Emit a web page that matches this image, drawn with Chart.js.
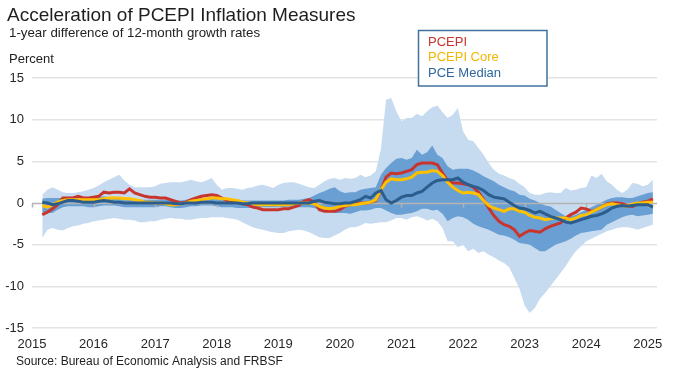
<!DOCTYPE html>
<html><head><meta charset="utf-8">
<script src="https://cdn.jsdelivr.net/npm/chart.js@4.4.1/dist/chart.umd.min.js"></script>
<style>html,body{margin:0;padding:0;background:#fff}#wrap{width:680px;height:371px;position:relative}</style>
</head><body><div id="wrap"><canvas id="c" width="680" height="371"></canvas></div>
<script>
// ---------- texts ----------
const titleText = 'Acceleration of PCEPI Inflation Measures';
const subtitleText = '1-year difference of 12-month growth rates';
const unitText = 'Percent';
const sourceText = 'Source: Bureau of Economic Analysis and FRBSF';
const seriesNames = ['PCEPI', 'PCEPI Core', 'PCE Median'];

// ---------- axes ----------
const firstYear = 2015, firstMonth = 3;           // first monthly observation: Mar 2015
const yearTicks = [2015, 2016, 2017, 2018, 2019, 2020, 2021, 2022, 2023, 2024, 2025];
const yTicks = [-15, -10, -5, 0, 5, 10, 15];

// ---------- series (percentage points, monthly) ----------
const pcepi = [
 -1.4,-1.1,-0.7,-0.2,0.6,0.6,0.6,0.8,0.6,0.6,
 0.7,0.8,1.3,1.2,1.3,1.3,1.2,1.7,1.2,1.0,
 0.8,0.7,0.7,0.6,0.6,0.4,0.2,0.0,0.1,0.4,
 0.6,0.8,0.9,1.0,0.9,0.6,0.3,0.2,0.1,-0.1,
 -0.2,-0.5,-0.6,-0.8,-0.8,-0.8,-0.8,-0.7,-0.7,-0.5,
 -0.3,0.2,0.4,0.1,-0.8,-1.0,-1.0,-1.0,-0.8,-0.4,
 -0.2,-0.1,0.0,0.0,0.1,0.3,1.5,3.1,3.6,3.5,
 3.6,3.8,4.0,4.6,4.8,4.8,4.8,4.6,3.6,2.7,
 2.4,2.4,2.3,2.2,1.9,1.3,0.4,-0.6,-1.5,-2.2,
 -2.6,-2.8,-3.2,-4.0,-3.6,-3.3,-3.4,-3.5,-3.1,-2.8,
 -2.6,-2.4,-1.8,-1.4,-1.1,-0.6,-0.7,-1.0,-0.8,-0.5,
 -0.1,0.0,0.0,-0.1,-0.3,-0.4,-0.1,0.1,0.2,0.5
];
const pcepiCore = [
 -0.3,-0.5,-0.2,0.1,0.3,0.4,0.4,0.4,0.4,0.4,
 0.4,0.4,0.5,0.6,0.6,0.6,0.5,0.5,0.4,0.3,
 0.1,0.1,0.0,0.0,-0.1,-0.2,-0.2,-0.1,0.0,0.2,
 0.3,0.4,0.5,0.6,0.6,0.5,0.5,0.4,0.3,0.1,
 0.0,-0.1,-0.2,-0.2,-0.2,-0.2,-0.2,-0.2,-0.2,-0.1,
 0.0,0.0,0.0,-0.1,-0.4,-0.6,-0.7,-0.6,-0.4,-0.3,
 -0.2,-0.2,-0.1,0.0,0.1,0.4,1.6,2.5,2.9,2.8,
 2.8,2.9,3.1,3.6,3.7,3.7,3.9,3.8,3.3,2.5,
 1.9,1.5,1.2,1.3,1.2,1.0,0.3,-0.3,-0.6,-0.8,
 -1.0,-0.7,-0.7,-1.0,-1.1,-1.5,-1.7,-1.8,-2.0,-1.9,
 -1.8,-1.8,-1.8,-2.0,-1.8,-1.5,-1.4,-1.1,-0.8,-0.5,
 -0.2,-0.1,-0.2,-0.3,-0.4,-0.1,0.0,0.0,0.1,0.1
];
const pceMedian = [
 0.1,0.0,-0.2,-0.1,0.1,0.3,0.3,0.2,0.1,0.1,
 0.1,0.2,0.3,0.2,0.1,0.1,0.0,0.0,0.0,0.0,
 0.0,0.0,0.0,0.0,0.0,0.0,-0.1,-0.1,0.0,0.0,
 0.0,0.1,0.1,0.1,0.0,0.0,0.0,0.0,0.0,-0.1,
 -0.1,0.0,0.0,0.0,0.0,0.0,0.0,0.0,0.0,0.0,
 0.0,0.0,0.0,0.2,0.3,0.1,0.0,-0.1,-0.1,0.0,
 0.0,0.2,0.4,0.8,0.6,1.2,1.5,0.4,0.0,0.3,
 0.7,0.9,0.9,1.2,1.4,1.9,2.4,2.7,2.8,2.8,
 2.8,3.0,2.5,2.2,2.0,1.8,1.5,1.0,0.7,0.6,
 0.5,0.1,-0.3,-0.6,-0.7,-0.9,-1.2,-1.0,-1.3,-1.6,
 -1.8,-2.0,-2.3,-2.4,-2.2,-2.0,-1.8,-1.6,-1.5,-1.3,
 -1.0,-0.6,-0.4,-0.3,-0.4,-0.3,-0.2,-0.2,-0.2,-0.5
];
// outer (light) range of components
const outerHigh = [
 1.0,1.6,1.9,1.6,1.3,1.2,1.2,1.3,1.4,1.6,
 1.8,2.1,2.5,2.8,3.1,3.4,2.7,2.2,1.9,1.9,
 1.9,1.9,2.0,2.3,2.4,2.5,2.5,2.5,2.6,2.8,
 2.6,2.5,2.7,3.0,2.2,1.6,1.8,1.8,1.7,1.6,
 1.8,1.9,2.1,2.2,2.0,1.8,2.2,2.4,2.5,2.5,
 2.3,2.1,1.9,1.8,2.2,2.6,2.9,3.0,2.8,3.0,
 2.9,3.0,3.4,3.1,3.3,3.8,6.5,12.4,12.6,11.0,
 9.8,10.2,10.2,10.7,10.4,11.0,11.5,11.7,10.9,10.2,
 10.6,11.4,8.6,7.6,7.4,6.6,5.8,4.8,4.0,3.5,
 3.3,3.0,2.8,2.3,1.9,1.2,1.0,1.0,1.2,1.3,
 1.2,1.2,1.8,1.5,1.6,1.8,1.9,3.3,3.0,3.5,
 2.6,2.2,1.6,1.2,1.6,2.4,2.3,2.0,2.2,2.8
];
const outerLow = [
 -4.2,-3.2,-3.0,-3.2,-3.3,-3.0,-2.8,-2.7,-2.5,-2.4,
 -2.2,-2.1,-2.0,-1.9,-1.8,-1.9,-2.0,-2.0,-2.1,-2.3,
 -2.3,-2.2,-2.2,-2.0,-1.9,-1.8,-1.9,-1.9,-2.0,-2.0,
 -1.9,-1.8,-1.8,-1.7,-1.7,-1.7,-1.8,-1.9,-2.0,-2.3,
 -2.6,-2.9,-3.1,-3.2,-3.4,-3.5,-3.6,-3.6,-3.4,-3.3,
 -3.2,-3.3,-3.5,-3.8,-4.1,-4.2,-4.2,-3.9,-3.6,-3.2,
 -2.9,-2.9,-2.7,-2.4,-2.5,-2.4,-2.3,-2.3,-2.1,-1.8,
 -1.8,-2.0,-1.7,-1.6,-1.8,-2.1,-1.9,-2.2,-3.0,-4.6,
 -4.6,-5.3,-5.0,-5.8,-5.5,-6.0,-5.8,-6.2,-6.5,-6.9,
 -7.2,-7.7,-9.0,-10.3,-12.3,-13.2,-12.6,-11.5,-10.8,-10.0,
 -9.2,-8.4,-7.6,-6.6,-5.8,-5.2,-4.6,-4.3,-4.0,-3.7,
 -3.4,-3.2,-3.0,-2.9,-2.9,-3.0,-3.2,-3.0,-2.8,-2.6
];
// inner (dark) range of components
const innerHigh = [
 0.5,0.6,0.6,0.6,0.6,0.6,0.6,0.5,0.5,0.5,
 0.6,0.7,0.8,0.7,0.6,0.6,0.5,0.5,0.4,0.4,
 0.4,0.4,0.4,0.4,0.4,0.4,0.3,0.3,0.4,0.5,
 0.5,0.6,0.6,0.6,0.5,0.4,0.4,0.4,0.4,0.3,
 0.3,0.3,0.3,0.3,0.3,0.3,0.3,0.3,0.4,0.4,
 0.4,0.5,0.6,0.9,1.2,1.4,1.7,1.9,1.4,1.2,
 1.3,1.3,1.6,1.7,1.8,1.9,3.4,4.2,4.8,5.3,
 5.4,5.2,5.4,6.4,5.8,6.1,6.9,5.8,5.4,4.4,
 4.0,4.1,4.1,4.1,3.9,3.6,3.2,2.9,2.6,2.2,
 1.9,1.6,1.4,1.0,0.9,0.5,0.3,0.0,-0.3,-0.4,
 -0.8,-1.2,-1.6,-1.6,-1.4,-1.1,-0.8,-0.5,-0.2,0.1,
 0.4,0.6,0.7,0.7,0.6,0.6,0.8,1.0,1.2,1.3
];
const innerLow = [
 -1.1,-1.2,-1.2,-0.8,-0.5,-0.4,-0.4,-0.4,-0.4,-0.5,
 -0.5,-0.4,-0.3,-0.3,-0.3,-0.4,-0.5,-0.5,-0.5,-0.5,
 -0.5,-0.5,-0.5,-0.4,-0.4,-0.5,-0.6,-0.6,-0.5,-0.4,
 -0.4,-0.3,-0.3,-0.3,-0.4,-0.5,-0.5,-0.5,-0.6,-0.6,
 -0.6,-0.6,-0.5,-0.5,-0.5,-0.5,-0.5,-0.5,-0.5,-0.5,
 -0.5,-0.5,-0.5,-0.6,-0.8,-0.9,-1.0,-1.2,-1.2,-1.2,
 -1.3,-1.1,-0.9,-0.9,-0.8,-0.6,-0.6,-0.9,-1.2,-1.4,
 -1.4,-1.3,-1.2,-1.0,-0.7,-0.7,-0.9,-0.8,-1.3,-2.2,
 -1.8,-1.6,-1.7,-2.0,-2.5,-2.8,-3.0,-3.2,-3.5,-3.8,
 -3.9,-4.1,-4.4,-4.8,-4.9,-5.0,-5.4,-5.8,-5.8,-5.4,
 -5.0,-4.8,-4.6,-4.3,-3.9,-3.6,-3.5,-3.4,-3.3,-3.2,
 -2.6,-2.3,-2.0,-1.7,-1.5,-1.4,-1.6,-1.5,-1.4,-1.3
];

// ---------- styles ----------
const FONT = '"Liberation Sans", Arial, sans-serif';
const C_RED = '#c8352e', C_GOLD = '#ffc000', C_NAVY = '#2c5d8c';
const C_OUTER = '#c6dbef', C_INNER = '#6a9fd3';

const monthPos = pcepi.map((_, i) => firstYear + (firstMonth - 1 + i) / 12);
const pts = arr => arr.map((v, i) => ({ x: monthPos[i], y: v }));

Chart.defaults.font.family = FONT;
Chart.defaults.font.size = 13;
Chart.defaults.color = '#333';

const decor = {
  id: 'decor',
  afterDatasetDraw(chart, args) {
    if (args.index !== 3) return;
    const { ctx, chartArea, scales: { x, y } } = chart;
    const y0 = Math.round(y.getPixelForValue(0)) + 0.5;
    ctx.save();
    ctx.strokeStyle = '#b4b4b4';
    ctx.lineWidth = 1.5;
    ctx.beginPath();
    ctx.moveTo(chartArea.left, y0);
    ctx.lineTo(chartArea.right, y0);
    yearTicks.forEach(v => {
      const px = Math.round(x.getPixelForValue(v)) + 0.5;
      ctx.moveTo(px, y0);
      ctx.lineTo(px, y0 + 4);
    });
    ctx.stroke();
    ctx.restore();
  },
  afterDraw(chart) {
    const ctx = chart.ctx;
    ctx.save();
    ctx.textBaseline = 'alphabetic';
    ctx.textAlign = 'left';
    ctx.fillStyle = '#1e1e1e';
    ctx.font = '19px ' + FONT;
    ctx.fillText(titleText, 7, 21);
    ctx.font = '13.3px ' + FONT;
    ctx.fillStyle = '#222';
    ctx.fillText(subtitleText, 9, 37);
    ctx.font = '13px ' + FONT;
    ctx.fillText(unitText, 9, 63);
    ctx.font = '12px ' + FONT;
    ctx.fillText(sourceText, 16, 365);
    // legend box
    ctx.fillStyle = '#fff';
    ctx.fillRect(418, 30, 129, 56);
    ctx.strokeStyle = '#41719c';
    ctx.lineWidth = 1.5;
    ctx.strokeRect(418.5, 30.5, 128.5, 55.5);
    ctx.font = '13px ' + FONT;
    ctx.textBaseline = 'middle';
    const cols = [C_RED, '#f2b600', '#2f67a0'];
    seriesNames.forEach((n, i) => {
      ctx.fillStyle = cols[i];
      ctx.fillText(n, 428, 42 + i * 15.5);
    });
    ctx.restore();
  }
};

const lineDs = (label, data, color, w) => ({
  label, data: pts(data), borderColor: color, backgroundColor: color,
  borderWidth: w, pointRadius: 0, tension: 0, fill: false
});
const bandDs = (label, data, color, fill) => ({
  label, data: pts(data), borderWidth: 0, borderColor: 'rgba(0,0,0,0)',
  backgroundColor: color, pointRadius: 0, tension: 0, fill
});

new Chart(document.getElementById('c'), {
  type: 'line',
  data: {
    datasets: [
      lineDs(seriesNames[2], pceMedian, C_NAVY, 3),
      lineDs(seriesNames[1], pcepiCore, C_GOLD, 3),
      lineDs(seriesNames[0], pcepi, C_RED, 3),
      bandDs('inner high', innerHigh, C_INNER, '+1'),
      bandDs('inner low', innerLow, C_INNER, false),
      bandDs('outer high', outerHigh, C_OUTER, '+1'),
      bandDs('outer low', outerLow, C_OUTER, false)
    ]
  },
  options: {
    responsive: false,
    animation: false,
    devicePixelRatio: 1,
    layout: { padding: { top: 78, right: 23, bottom: 0, left: 0 } },
    plugins: { legend: { display: false }, title: { display: false }, tooltip: { enabled: false } },
    scales: {
      x: {
        type: 'linear',
        min: 2015, max: 2025.15,
        afterBuildTicks: s => { s.ticks = yearTicks.map(v => ({ value: v })); },
        afterFit: s => { s.height = 43; },
        grid: { display: false, drawTicks: false },
        border: { display: false },
        ticks: { autoSkip: false, maxRotation: 0, padding: 9, color: '#262626',
                 font: { size: 13 }, callback: v => String(v) }
      },
      y: {
        min: -15, max: 15,
        afterBuildTicks: s => { s.ticks = yTicks.map(v => ({ value: v })); },
        afterFit: s => { s.width = 32; },
        grid: { drawTicks: false, lineWidth: 1.5,
                color: c => (c.tick && c.tick.value === 0) ? 'rgba(0,0,0,0)' : '#e3e3e3' },
        border: { display: false },
        ticks: { padding: 8, color: '#262626', font: { size: 13 }, callback: v => String(v) }
      }
    }
  },
  plugins: [decor]
});
</script>
</body></html>
